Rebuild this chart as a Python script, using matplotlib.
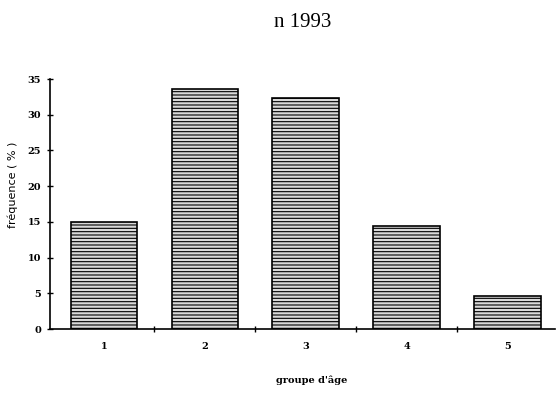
import matplotlib.pyplot as plt

# data
groups = ["1", "2", "3", "4", "5"]
freq = [15.0, 33.6, 32.4, 14.4, 4.7]
yticks = [0, 5, 10, 15, 20, 25, 30, 35]

plt.rcParams["hatch.linewidth"] = 0.8
plt.rcParams["hatch.color"] = "#222222"

fig = plt.figure(figsize=(5.59, 3.97), dpi=100)
ax = fig.add_axes([0.0894, 0.171, 0.9035, 0.630])

x_pos = list(range(1, len(groups) + 1))
ax.bar(x_pos, freq, width=0.66, color="#d9d9d9", edgecolor="black",
       linewidth=1.2, hatch="-----")

ax.set_xlim(0.465, 5.47)
ax.set_ylim(0, 35)
ax.set_yticks(yticks)
ax.set_yticklabels([str(t) for t in yticks], family="DejaVu Serif",
                   fontsize=7, fontweight="bold")
ax.set_xticks(x_pos)
ax.set_xticklabels(groups, family="DejaVu Serif", fontsize=7, fontweight="bold")
ax.tick_params(axis="x", length=0, pad=9)
ax.set_xticks([1.5, 2.5, 3.5, 4.5], minor=True)
ax.tick_params(axis="x", which="minor", direction="inout", length=5, width=1)
ax.tick_params(axis="y", direction="inout", length=5, width=1, pad=4)

for side in ["top", "right"]:
    ax.spines[side].set_visible(False)
ax.spines["left"].set_linewidth(1.2)
ax.spines["bottom"].set_linewidth(1.2)

ax.set_ylabel("fréquence ( % )", family="DejaVu Sans", fontsize=8)
ax.yaxis.set_label_coords(-0.063, 0.576)
ax.set_xlabel("groupe d'âge", family="DejaVu Serif", fontsize=7,
              fontweight="bold")
ax.xaxis.set_label_coords(0.519, -0.184)
fig.text(0.542, 0.943, "n 1993", family="Liberation Serif", fontsize=15,
         ha="center", va="center")

plt.savefig("out.png", dpi=100)
